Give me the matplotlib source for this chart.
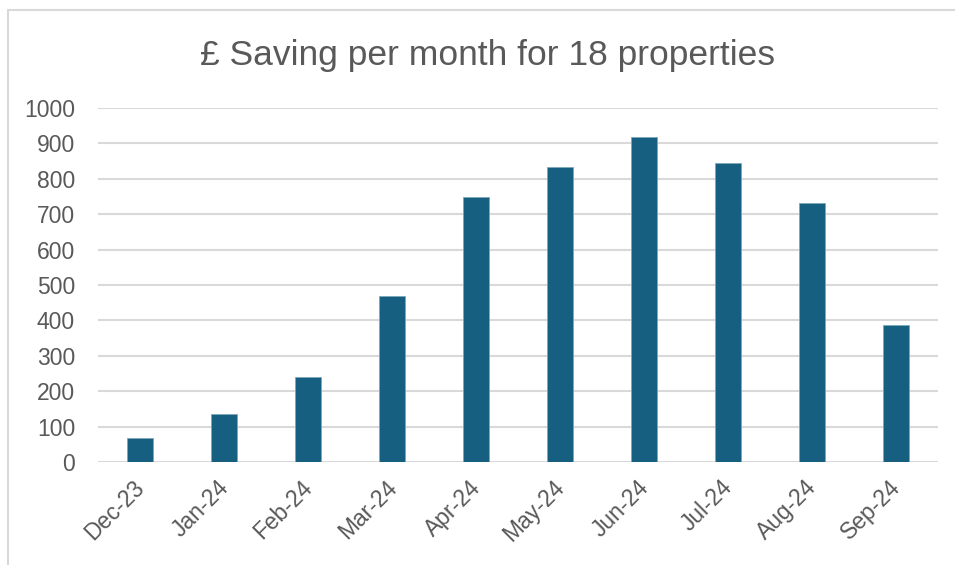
import matplotlib
matplotlib.use("Agg")
import matplotlib.pyplot as plt
import matplotlib.transforms as mtransforms
from matplotlib.lines import Line2D

# Datos
meses = ["Dec-23", "Jan-24", "Feb-24", "Mar-24", "Apr-24",
         "May-24", "Jun-24", "Jul-24", "Aug-24", "Sep-24"]
ahorro = [68, 137, 239, 470, 748, 833, 918, 845, 731, 386]
y_ticks = list(range(0, 1001, 100))

color_barra = "#175f80"
color_texto = "#595959"
color_grid = "#d9d9d9"

plt.rcParams["font.family"] = ["Liberation Sans", "DejaVu Sans"]

fig = plt.figure(figsize=(9.55, 5.65), dpi=100)
ax = fig.add_axes([98 / 955, 1 - 462 / 565, 840 / 955, 354 / 565])

x = list(range(len(meses)))
ax.bar(x, ahorro, width=0.30, color=color_barra, edgecolor="#7fa7bb",
       linewidth=0.6, zorder=3)

ax.set_xlim(-0.5, len(meses) - 0.5)
ax.set_ylim(0, 1000)
ax.set_yticks(y_ticks)
ax.set_xticks(x)
ax.set_xticklabels(meses, rotation=45, ha="right", rotation_mode="anchor")
ax.tick_params(axis="both", length=0, labelsize=16.5, colors=color_texto)
ax.tick_params(axis="y", pad=16.5)
ax.tick_params(axis="x", pad=10)
ax.grid(axis="y", color=color_grid, linewidth=1.5, zorder=0)
for s in ax.spines.values():
    s.set_visible(False)

# desplazar un poco las etiquetas del eje x hacia la izquierda
desplazamiento = mtransforms.ScaledTranslation(-7 / 100, 0, fig.dpi_scale_trans)
for etiqueta in ax.get_xticklabels():
    etiqueta.set_transform(etiqueta.get_transform() + desplazamiento)

fig.text(487 / 955, 1 - 65 / 565, "£ Saving per month for 18 properties",
         ha="center", va="baseline", fontsize=25.5, color=color_texto)

# borde del gráfico (recortado a la izquierda y arriba)
fig.add_artist(Line2D([8 / 955, 8 / 955], [0, 1 - 10 / 565],
                      transform=fig.transFigure, color=color_grid, lw=1.5))
fig.add_artist(Line2D([8 / 955, 1], [1 - 10 / 565, 1 - 10 / 565],
                      transform=fig.transFigure, color=color_grid, lw=1.5))

fig.savefig("out.png", dpi=100)
